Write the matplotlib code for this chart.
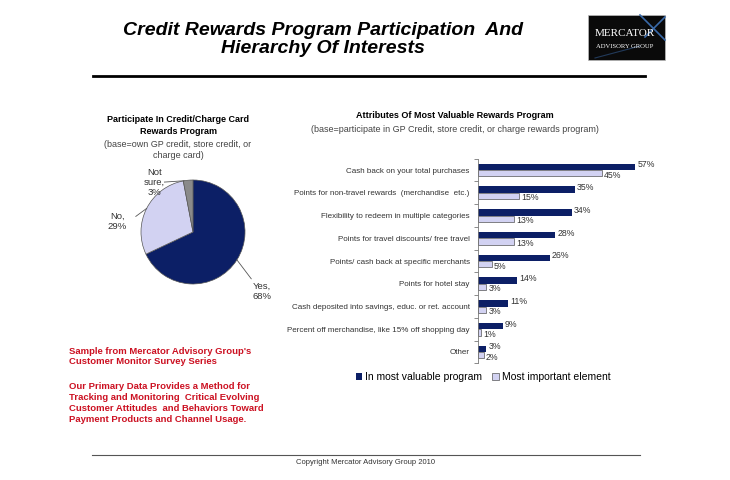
import numpy as np
import matplotlib
matplotlib.use("Agg")
import matplotlib.pyplot as plt
from matplotlib.patches import Rectangle
from matplotlib.lines import Line2D

plt.rcParams['font.family'] = ['Liberation Sans', 'DejaVu Sans']

# pie data
pie_labels = ["Yes", "No", "Not\nsure"]
pie_values = [68, 29, 3]

# bar data
categories = [
    "Cash back on your total purchases",
    "Points for non-travel rewards  (merchandise  etc.)",
    "Flexibility to redeem in multiple categories",
    "Points for travel discounts/ free travel",
    "Points/ cash back at specific merchants",
    "Points for hotel stay",
    "Cash deposited into savings, educ. or ret. account",
    "Percent off merchandise, like 15% off shopping day",
    "Other",
]
most_valuable = [57, 35, 34, 28, 26, 14, 11, 9, 3]
most_important = [45, 15, 13, 13, 5, 3, 3, 1, 2]
series_names = ["In most valuable program", "Most important element"]

navy = "#0c1f66"
lav = "#d2d2f2"
grey = "#8a8a8a"
red = "#cc1122"

W, H = 730, 480
fig = plt.figure(figsize=(7.3, 4.8), dpi=100)

def fx(px):
    return px / W

def fy(py):
    return 1 - py / H

# header
fig.text(fx(323), fy(39.5), "Credit Rewards Program Participation  And\nHierarchy Of Interests",
         ha='center', va='center', fontsize=14, fontweight='bold', style='italic',
         linespacing=1.15)
fig.add_artist(Line2D([fx(93), fx(645)], [fy(76), fy(76)], color='black', lw=2))

# logo
fig.add_artist(Rectangle((fx(588), fy(60)), fx(77), 45 / H, facecolor='#0a0a0a',
                         edgecolor='#bbbbbb', lw=0.5))
fig.add_artist(Line2D([fx(640), fx(665)], [fy(15), fy(40)], color='#3a6aa8', lw=1.2))
fig.add_artist(Line2D([fx(665), fx(645)], [fy(17), fy(37)], color='#3a6aa8', lw=1.2))
fig.add_artist(Line2D([fx(595), fx(640)], [fy(58), fy(46)], color='#223a5a', lw=0.8))
fig.text(fx(625), fy(34), "MERCATOR", ha='center', va='center', color='white',
         fontsize=8, family='Liberation Serif')
fig.text(fx(625), fy(47), "ADVISORY GROUP", ha='center', va='center', color='white',
         fontsize=4.8, family='Liberation Serif')

# pie chart
cx, cy, r = 193, 232, 52
ax_pie = fig.add_axes([fx(cx - r), fy(cy + r), 2 * r / W, 2 * r / H])
wedges, _ = ax_pie.pie(pie_values, colors=[navy, lav, grey], startangle=90,
                       counterclock=False, wedgeprops=dict(edgecolor='#555555', lw=0.5))
ax_pie.set_xlim(-1, 1)
ax_pie.set_ylim(-1, 1)
ax_pie.set_aspect('auto')

label_pos = [(1.33, -1.14), (-1.45, 0.2), (-0.74, 0.96)]
line_end = [(1.12, -0.9), (-1.1, 0.3), (-0.55, 0.96)]
for w, val, name, pos, le in zip(wedges, pie_values, pie_labels, label_pos, line_end):
    ang = np.deg2rad((w.theta1 + w.theta2) / 2)
    if name == "Not\nsure":
        ang = np.deg2rad(w.theta2 - 1)
    edge = (np.cos(ang), np.sin(ang))
    ax_pie.plot([edge[0], le[0]], [edge[1], le[1]], color='#555555', lw=0.6,
                clip_on=False)
    ax_pie.text(pos[0], pos[1], f"{name},\n{val}%", ha='center', va='center',
                fontsize=6.8, color='#333333', linespacing=1.15, clip_on=False)

fig.text(fx(178), fy(125.5), "Participate In Credit/Charge Card\nRewards Program",
         ha='center', va='center', fontsize=6.5, fontweight='bold', linespacing=1.3)
fig.text(fx(178), fy(150), "(base=own GP credit, store credit, or\ncharge card)",
         ha='center', va='center', fontsize=6.5, color='#444444', linespacing=1.35)

# bar chart
row = 22.75
top = 170 - row / 2
ax_bar = fig.add_axes([fx(478), fy(top + 9 * row), fx(182), 9 * row / H])
y = np.arange(len(categories))
h = 0.28
ax_bar.barh(y - h / 2, most_valuable, height=h, color=navy, label=series_names[0])
ax_bar.barh(y + h / 2, most_important, height=h, color=lav, edgecolor='#555555',
            lw=0.5, label=series_names[1])
for yi, a, b in zip(y, most_valuable, most_important):
    ax_bar.text(a + 0.8, yi - h / 2 - 0.08, f"{a}%", va='center', ha='left', fontsize=6.3,
                color='#333333')
    ax_bar.text(b + 0.8, yi + h / 2 + 0.08, f"{b}%", va='center', ha='left', fontsize=6.3,
                color='#333333')
ax_bar.set_xlim(0, 66)
ax_bar.set_ylim(len(categories) - 0.5, -0.5)
ax_bar.set_yticks(y)
ax_bar.set_yticklabels(categories, fontsize=5.8, color='#333333')
ax_bar.set_yticks(np.arange(-0.5, len(categories)), minor=True)
ax_bar.tick_params(axis='y', which='major', length=0, pad=6)
ax_bar.tick_params(axis='y', which='minor', length=3, width=0.6, color='#777777')
ax_bar.set_xticks([])
for s in ['top', 'right', 'bottom']:
    ax_bar.spines[s].set_visible(False)
ax_bar.spines['left'].set_color('#777777')
ax_bar.spines['left'].set_linewidth(0.6)

fig.legend(loc='center', bbox_to_anchor=(fx(483), fy(377)), ncol=2, frameon=False,
           fontsize=7.5, handlelength=0.6, handleheight=0.6, handletextpad=0.3,
           columnspacing=1.0)

fig.text(fx(455), fy(115), "Attributes Of Most Valuable Rewards Program",
         ha='center', va='center', fontsize=6.5, fontweight='bold')
fig.text(fx(455), fy(130), "(base=participate in GP Credit, store credit, or charge rewards program)",
         ha='center', va='center', fontsize=6.5, color='#444444')

# notes
fig.text(fx(69), fy(356.5), "Sample from Mercator Advisory Group's\nCustomer Monitor Survey Series",
         ha='left', va='center', fontsize=6.8, fontweight='bold', color=red,
         linespacing=1.25)
fig.text(fx(69), fy(403), "Our Primary Data Provides a Method for\nTracking and Monitoring  Critical Evolving\n"
         "Customer Attitudes  and Behaviors Toward\nPayment Products and Channel Usage.",
         ha='left', va='center', fontsize=6.8, fontweight='bold', color=red,
         linespacing=1.25)

# footer
fig.add_artist(Line2D([fx(92), fx(640)], [fy(455), fy(455)], color='#555555', lw=0.8))
fig.text(fx(365), fy(462), "Copyright Mercator Advisory Group 2010", ha='center',
         va='center', fontsize=5.5, color='#333333')

fig.savefig("out.png", dpi=100)
